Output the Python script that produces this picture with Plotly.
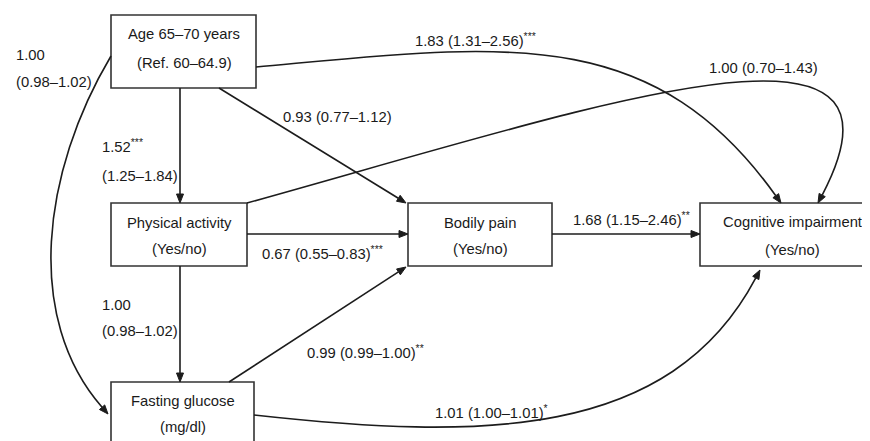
import plotly.graph_objects as go

# ---- data: node labels and edge estimates ----
node_ids = ["age", "pa", "fg", "bp", "ci"]
node_line1 = ["Age 65\u201370 years", "Physical activity", "Fasting glucose", "Bodily pain", "Cognitive impairment"]
node_line2 = ["(Ref. 60\u201364.9)", "(Yes/no)", "(mg/dl)", "(Yes/no)", "(Yes/no)"]

edge_from = ["age", "age", "age", "age", "pa", "pa", "pa", "fg", "fg", "bp"]
edge_to   = ["fg", "pa", "bp", "ci", "ci", "bp", "fg", "bp", "ci", "ci"]
edge_or   = ["1.00", "1.52", "0.93", "1.83", "1.00", "0.67", "1.00", "0.99", "1.01", "1.68"]
edge_ci   = ["(0.98\u20131.02)", "(1.25\u20131.84)", "(0.77\u20131.12)", "(1.31\u20132.56)", "(0.70\u20131.43)",
             "(0.55\u20130.83)", "(0.98\u20131.02)", "(0.99\u20131.00)", "(1.00\u20131.01)", "(1.15\u20132.46)"]
edge_sig  = ["", "***", "", "***", "", "***", "", "**", "*", "**"]
edge_twoline = [True, True, False, False, False, False, True, False, False, False]

# ---- layout (pixel canvas) ----
W, H = 870, 441
OFF = 8  # page body margin compensation
boxes = {
    "age": (111, 15, 256, 88),
    "pa": (111, 203, 247, 266),
    "fg": (111, 382, 254, 452),
    "bp": (408, 203, 552, 266),
    "ci": (700, 203, 885, 266),
}
node_text_pos = {
    "age": (184, 34, 63),
    "pa": (179, 223, 249),
    "fg": (183, 401, 427),
    "bp": (480, 223, 249),
    "ci": (792, 222, 250),
}
# edge geometry: 2 points = straight line, 4 points = cubic bezier
edge_geom = {
    ("age", "fg"): [(111, 56), (42, 172), (24, 318), (108, 414)],
    ("age", "pa"): [(180, 88), (180, 203)],
    ("age", "bp"): [(219, 88), (406, 203)],
    ("age", "ci"): [(256, 67), (500, 45), (650, 20), (781, 203)],
    ("pa", "ci"): [(247, 203), (600, 105), (930, -10), (818, 203)],
    ("pa", "bp"): [(247, 234), (408, 234)],
    ("pa", "fg"): [(180, 266), (180, 382)],
    ("fg", "bp"): [(229, 382), (406, 267)],
    ("fg", "ci"): [(254, 415), (480, 440), (670, 440), (760, 270)],
    ("bp", "ci"): [(552, 234), (700, 234)],
}
label_pos = {  # left x, center y of first line, center y of second line
    ("age", "fg"): (14, 55, 82),
    ("age", "pa"): (100, 146, 176),
    ("age", "bp"): (281, 117, None),
    ("age", "ci"): (413, 40, None),
    ("pa", "ci"): (707, 68, None),
    ("pa", "bp"): (260, 253, None),
    ("pa", "fg"): (100, 305, 331),
    ("fg", "bp"): (305, 352, None),
    ("fg", "ci"): (433, 412, None),
    ("bp", "ci"): (571, 219, None),
}

LINE = "#1c1c1c"
FONT = dict(family="Liberation Sans, Arial, sans-serif", size=14.8, color="#1a1a1a")

shapes = []
annotations = []

for nid in node_ids:
    x0, y0, x1, y1 = boxes[nid]
    shapes.append(dict(type="rect", x0=x0, y0=y0, x1=x1, y1=y1,
                       line=dict(color="#333333", width=1.6), fillcolor="rgba(0,0,0,0)"))

for nid, l1, l2 in zip(node_ids, node_line1, node_line2):
    cx, ya, yb = node_text_pos[nid]
    annotations.append(dict(x=cx, y=ya, text=l1, showarrow=False, xanchor="center", yanchor="middle", font=FONT))
    annotations.append(dict(x=cx, y=yb, text=l2, showarrow=False, xanchor="center", yanchor="middle", font=FONT))

AL, AW = 9.0, 7.0
for f, t in zip(edge_from, edge_to):
    pts = edge_geom[(f, t)]
    tip = pts[-1]
    prev = pts[-2]
    dx, dy = tip[0] - prev[0], tip[1] - prev[1]
    n = (dx * dx + dy * dy) ** 0.5
    ux, uy = dx / n, dy / n
    bx, by = tip[0] - AL * ux, tip[1] - AL * uy
    px, py = -uy, ux
    if len(pts) == 2:
        path = f"M{pts[0][0]},{pts[0][1]} L{bx:.2f},{by:.2f}"
    else:
        (a, b, c, d) = pts
        path = f"M{a[0]},{a[1]} C{b[0]},{b[1]} {c[0]},{c[1]} {bx:.2f},{by:.2f}"
    shapes.append(dict(type="path", path=path, line=dict(color=LINE, width=1.6)))
    tri = (f"M{tip[0]},{tip[1]} L{bx + px * AW / 2:.2f},{by + py * AW / 2:.2f} "
           f"L{bx - px * AW / 2:.2f},{by - py * AW / 2:.2f} Z")
    shapes.append(dict(type="path", path=tri, line=dict(color=LINE, width=1), fillcolor=LINE))

for f, t, o, ci, s, two in zip(edge_from, edge_to, edge_or, edge_ci, edge_sig, edge_twoline):
    lx, ya, yb = label_pos[(f, t)]
    sup = f"<sup>{s}</sup>" if s else ""
    if two:
        annotations.append(dict(x=lx, y=ya, text=f"{o}{sup}", showarrow=False, xanchor="left", yanchor="middle", font=FONT))
        annotations.append(dict(x=lx, y=yb, text=ci, showarrow=False, xanchor="left", yanchor="middle", font=FONT))
    else:
        annotations.append(dict(x=lx, y=ya, text=f"{o} {ci}{sup}", showarrow=False, xanchor="left", yanchor="middle", font=FONT))

fig = go.Figure()
fig.update_layout(
    width=W - OFF, height=H - OFF,
    margin=dict(l=0, r=0, t=0, b=0),
    paper_bgcolor="white", plot_bgcolor="white",
    xaxis=dict(range=[OFF, W], visible=False, fixedrange=True),
    yaxis=dict(range=[H, OFF], visible=False, fixedrange=True),
    shapes=shapes, annotations=annotations, showlegend=False,
)
fig.write_html("out.html")
